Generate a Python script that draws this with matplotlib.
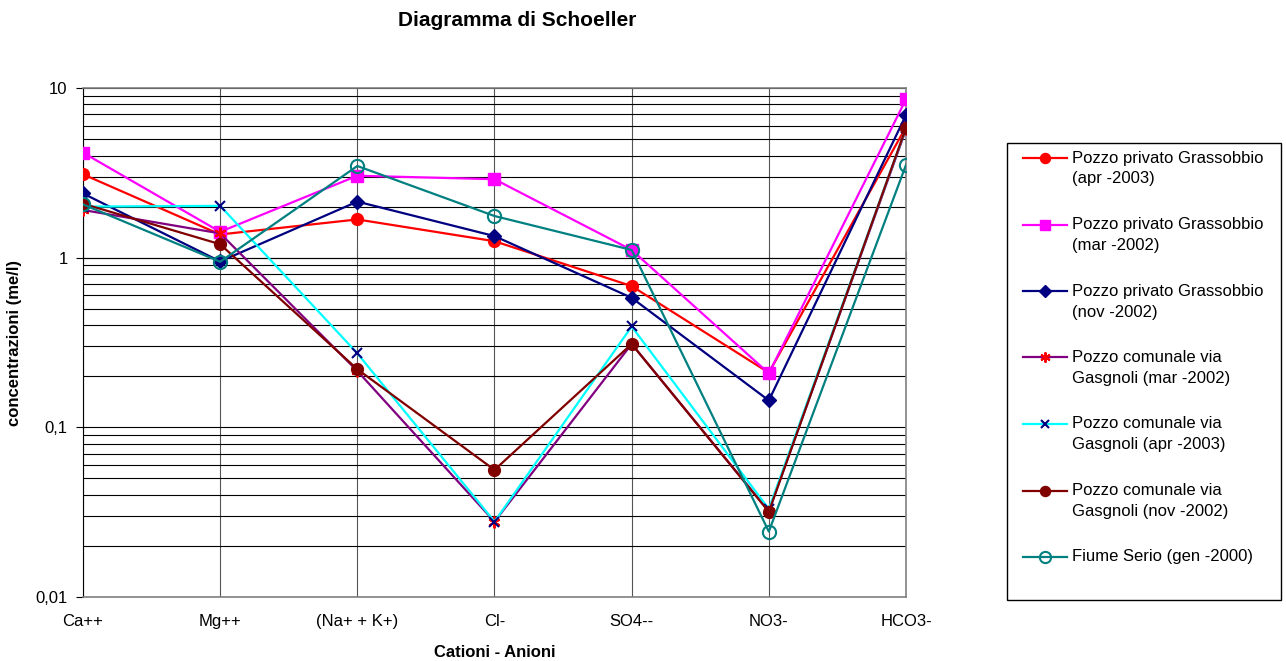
import matplotlib
matplotlib.use("Agg")
import matplotlib.pyplot as plt
from matplotlib.lines import Line2D
from matplotlib.patches import Rectangle
from matplotlib.ticker import FixedLocator, LogLocator, NullFormatter, FixedFormatter

plt.rcParams['font.family'] = ['Liberation Sans', 'DejaVu Sans']

categories = ["Ca++", "Mg++", "(Na+ + K+)", "Cl-", "SO4--", "NO3-", "HCO3-"]

priv_apr2003 = [3.10, 1.37, 1.68, 1.25, 0.68, 0.21, 5.9]
priv_mar2002 = [4.16, 1.42, 3.04, 2.90, 1.11, 0.208, 8.58]
priv_nov2002 = [2.39, 0.95, 2.14, 1.34, 0.58, 0.144, 6.93]
com_mar2002 = [1.91, 1.39, 0.215, 0.0278, 0.31, 0.032, 5.7]
com_apr2003 = [2.0, 2.02, 0.273, 0.0278, 0.393, 0.033, 5.8]
com_nov2002 = [2.08, 1.20, 0.22, 0.0561, 0.31, 0.0318, 5.83]
serio_gen2000 = [2.06, 0.946, 3.47, 1.76, 1.11, 0.0243, 3.52]

labels = [
    "Pozzo privato Grassobbio\n(apr -2003)",
    "Pozzo privato Grassobbio\n(mar -2002)",
    "Pozzo privato Grassobbio\n(nov -2002)",
    "Pozzo comunale via\nGasgnoli (mar -2002)",
    "Pozzo comunale via\nGasgnoli (apr -2003)",
    "Pozzo comunale via\nGasgnoli (nov -2002)",
    "Fiume Serio (gen -2000)",
]

styles = [
    dict(color="#FF0000", marker="o", ms=8.5, mfc="#FF0000", mec="#FF0000"),
    dict(color="#FF00FF", marker="s", ms=8.5, mfc="#FF00FF", mec="#FF00FF"),
    dict(color="#000080", marker="D", ms=7, mfc="#000080", mec="#000080"),
    dict(color="#800080", marker=(6, 2, 0), ms=8.5, mfc="#FF0000", mec="#FF0000", mew=1.5),
    dict(color="#00FFFF", marker="x", ms=7.5, mfc="#000080", mec="#000080", mew=1.5),
    dict(color="#800000", marker="o", ms=8.5, mfc="#800000", mec="#800000"),
    dict(color="#008080", marker="o", ms=9.5, mfc="none", mec="#008080", mew=1.5),
]

series = [priv_apr2003, priv_mar2002, priv_nov2002, com_mar2002,
          com_apr2003, com_nov2002, serio_gen2000]

W, H = 1286, 661
fig = plt.figure(figsize=(W / 100, H / 100), dpi=100)
ax = fig.add_axes([83 / W, 64 / H, 823 / W, 509 / H])

x = list(range(len(categories)))
for vals, st in zip(series, styles):
    ax.plot(x, vals, lw=1.6, zorder=3, **st)

ax.set_yscale("log")
ax.set_ylim(0.01, 10)
ax.set_xlim(0, len(categories) - 1)

ax.yaxis.set_major_locator(FixedLocator([0.01, 0.1, 1, 10]))
ax.yaxis.set_major_formatter(FixedFormatter(["0,01", "0,1", "1", "10"]))
ax.yaxis.set_minor_locator(LogLocator(base=10, subs=range(2, 10)))
ax.yaxis.set_minor_formatter(NullFormatter())

ax.set_xticks(x)
ax.set_xticklabels(categories)

ax.grid(True, which="major", axis="y", color="black", lw=0.8)
ax.grid(True, which="minor", axis="y", color="black", lw=0.8)
ax.grid(True, which="major", axis="x", color="#555555", lw=0.8)
ax.set_axisbelow(True)

for side in ["top", "right", "bottom"]:
    ax.spines[side].set_color("#808080")
    ax.spines[side].set_linewidth(1.2)
ax.spines["left"].set_color("black")
ax.tick_params(axis="y", which="major", length=5, labelsize=12, direction="out", pad=6)
ax.tick_params(axis="y", which="minor", length=0)
ax.tick_params(axis="x", length=0, labelsize=12, pad=12)

# category axis crossing the value axis at 1 (tick marks only)
cross = ax.secondary_xaxis(2 / 3)
cross.xaxis.set_major_locator(FixedLocator(x))
cross.xaxis.set_major_formatter(NullFormatter())
cross.tick_params(axis="x", direction="out", length=5, color="#808080")
cross.spines["bottom"].set_color("black")
cross.spines["bottom"].set_linewidth(0.8)

ax.set_xlabel("Cationi - Anioni", fontsize=12, fontweight="bold", labelpad=12)
ax.set_ylabel("concentrazioni (me/l)", fontsize=12, fontweight="bold", labelpad=10)
fig.suptitle("Diagramma di Schoeller", x=517 / W, y=1 - 20 / H, va="center",
             fontsize=15, fontweight="bold")

# legend box with handles aligned to the first line of each label
fig.patches.append(Rectangle((1007 / W, 1 - 600 / H), 274 / W, 457 / H,
                             transform=fig.transFigure, fill=False,
                             edgecolor="black", lw=1.0))
y0, dy, line_h = 158, 66.5, 21
for i, (st, lab) in enumerate(zip(styles, labels)):
    yc = 1 - (y0 + i * dy) / H
    h = Line2D([1023 / W, 1067 / W], [yc, yc], transform=fig.transFigure,
               lw=1.6, markevery=[], **{k: v for k, v in st.items() if k != "ms"})
    fig.lines.append(h)
    m = Line2D([1045 / W], [yc], transform=fig.transFigure, ls="none",
               **{k: (v * 0.85 if k == "ms" else v) for k, v in st.items()})
    fig.lines.append(m)
    for j, part in enumerate(lab.split("\n")):
        fig.text(1072 / W, yc - j * line_h / H, part, fontsize=12, va="center", ha="left")

fig.savefig("out.png", dpi=100)
